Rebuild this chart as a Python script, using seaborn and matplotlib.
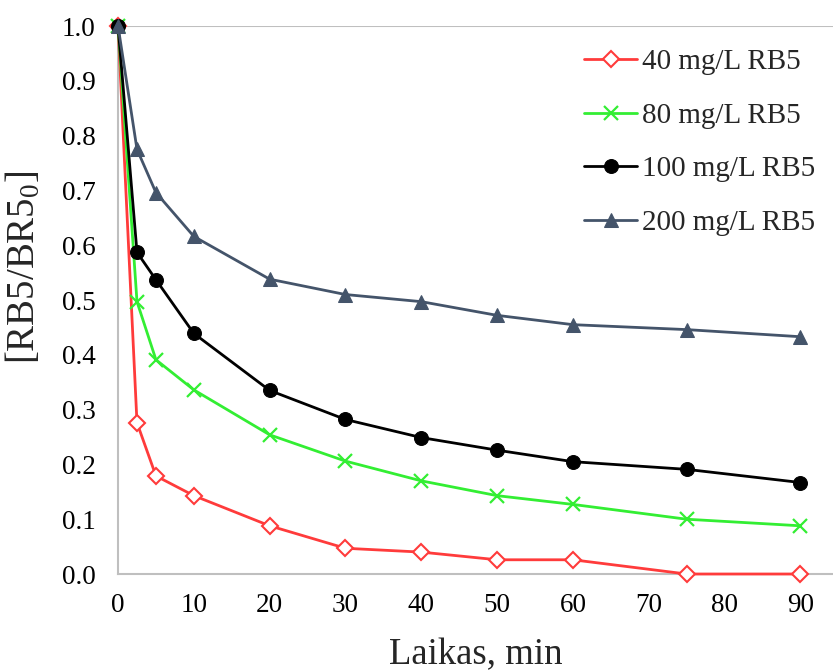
import numpy as np
import pandas as pd
import seaborn as sns
import matplotlib
import matplotlib.pyplot as plt

matplotlib.use('Agg')

time_min = [0, 2.5, 5, 10, 20, 30, 40, 50, 60, 75, 90]
rb5_40 = [1.0, 0.276, 0.179, 0.143, 0.088, 0.047, 0.040, 0.026, 0.026, 0.0, 0.0]
rb5_80 = [1.0, 0.497, 0.391, 0.336, 0.254, 0.206, 0.170, 0.143, 0.127, 0.100, 0.088]
rb5_100 = [1.0, 0.587, 0.537, 0.439, 0.335, 0.282, 0.249, 0.226, 0.205, 0.191, 0.167]
rb5_200 = [1.0, 0.775, 0.696, 0.616, 0.538, 0.510, 0.497, 0.472, 0.455, 0.446, 0.433]
labels = ['40 mg/L RB5', '80 mg/L RB5', '100 mg/L RB5', '200 mg/L RB5']

sns.set_theme(style='white')
plt.rcParams['font.family'] = ['Liberation Serif', 'DejaVu Serif']
plt.rcParams['mathtext.fontset'] = 'custom'
plt.rcParams['mathtext.rm'] = 'Liberation Serif'
plt.rcParams['mathtext.it'] = 'Liberation Serif'

df = pd.concat([
    pd.DataFrame({'t': time_min, 'c': vals, 'series': lab})
    for vals, lab in zip([rb5_40, rb5_80, rb5_100, rb5_200], labels)
], ignore_index=True)

styles = {
    labels[0]: dict(color='#ff3b3b', marker='D', markersize=8, markerfacecolor='white',
                    markeredgecolor='#ff3b3b', markeredgewidth=1.5),
    labels[1]: dict(color='#33ee33', marker='x', markersize=10, markeredgewidth=1.6,
                    markeredgecolor='#33ee33'),
    labels[2]: dict(color='black', marker='o', markersize=10, markeredgecolor='black'),
    labels[3]: dict(color='#44546a', marker='^', markersize=10, markeredgecolor='#44546a'),
}

fig = plt.figure(figsize=(8.33, 6.72), dpi=100)
ax = fig.add_axes([0.1417, 0.1458, 0.8583, 0.8155])

# later series drawn on top, like the original
for i, lab in enumerate(labels):
    sub = df[df['series'] == lab]
    st = styles[lab]
    sns.lineplot(data=sub, x='t', y='c', ax=ax, label=lab, linewidth=2,
                 clip_on=False, zorder=3 + i, **st)

ax.set_xlim(0, 94.3)
ax.set_ylim(0, 1.0)
ax.set_xticks(np.arange(0, 91, 10))
ax.set_yticks(np.arange(0, 1.01, 0.1))
ax.set_yticklabels([f'{v:.1f}' for v in np.arange(0, 1.01, 0.1)])
ax.tick_params(axis='both', length=0, labelsize=19.5, colors='black')
ax.tick_params(axis='x', pad=14)
ax.tick_params(axis='y', pad=16)

for side in ['top', 'right']:
    ax.spines[side].set_visible(False)
for side in ['left', 'bottom']:
    ax.spines[side].set_color('#bfbfbf')
    ax.spines[side].set_linewidth(1.5)
ax.axhline(1.0, color='#bfbfbf', linewidth=1.5, zorder=1)

ax.set_xlabel('Laikas, min', fontsize=26.5, va='center')
ax.xaxis.set_label_coords(0.5, -0.148)
ax.set_ylabel('[RB5/BR5$_0$]', fontsize=28, va='center')
ax.yaxis.set_label_coords(-0.1315, 0.56)

ax.legend(loc='upper left', bbox_to_anchor=(0.632, 0.985), frameon=False, fontsize=21,
          borderpad=0, handlelength=1.8, handletextpad=0.18, labelspacing=0.93)

fig.savefig('out.png', dpi=100)
plt.close(fig)
